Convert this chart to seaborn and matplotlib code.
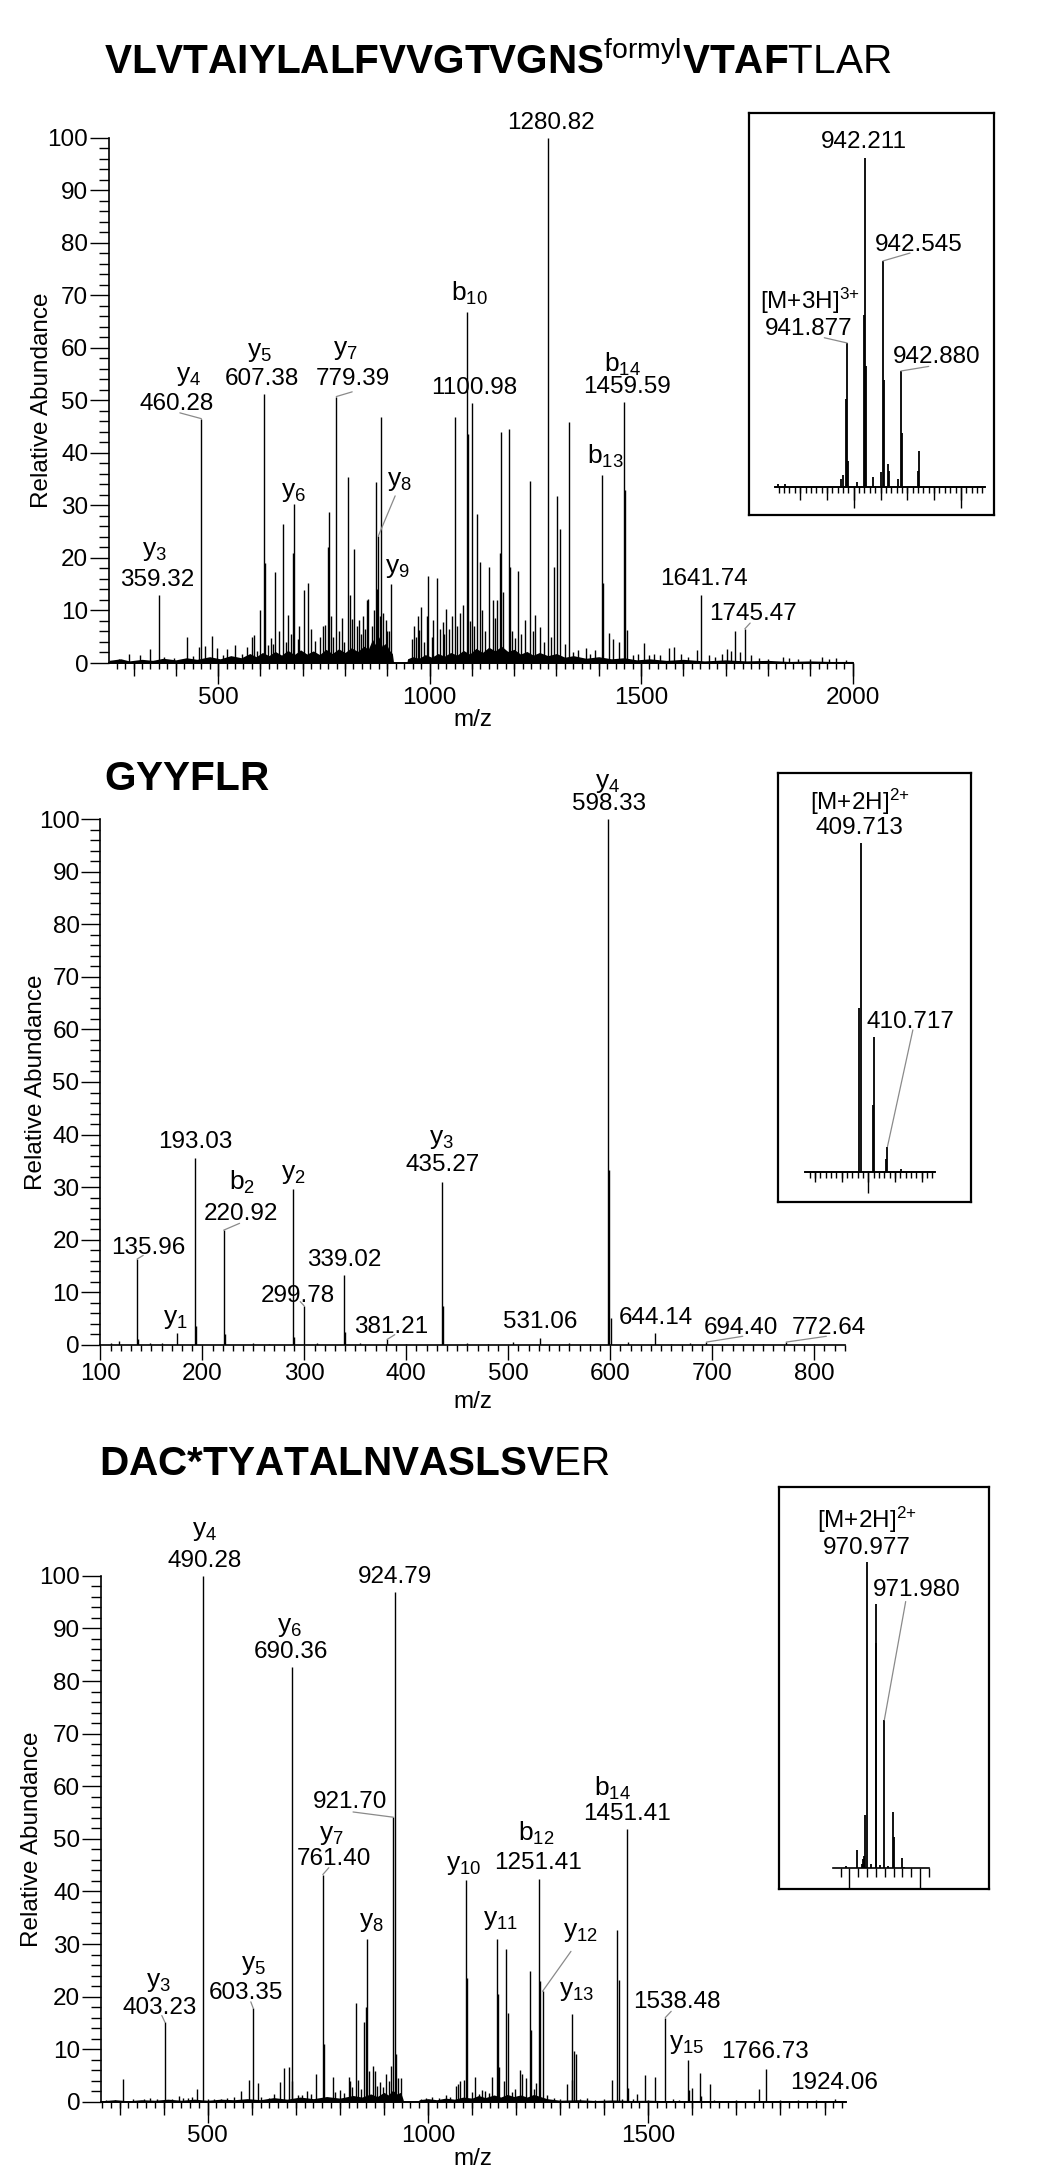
import numpy as np
import pandas as pd
import matplotlib
matplotlib.use("Agg")
import matplotlib.pyplot as plt
from matplotlib.ticker import MultipleLocator, FixedLocator, NullLocator
import seaborn as sns

# ---------------- panel 1 : VLVTAIYLALFVVGTVGNS(formyl)VTAFTLAR ----------------
p1_peak_mz = [359.32, 425.9, 460.28, 484.6, 599.5, 607.38, 611, 635.6, 653.7, 665.5,
              678, 679.5, 703, 713, 760, 763, 779.39, 808, 812, 822,
              842, 855, 873, 879, 885, 900.5, 909.6, 972.9, 979, 997,
              1018, 1031.6, 1040, 1060.6, 1087.7, 1090, 1100.98, 1111, 1119, 1140,
              1149, 1167, 1169, 1187, 1208, 1237.8, 1249, 1280.82, 1294, 1301,
              1307.6, 1330, 1407.8, 1409.6, 1425, 1434, 1449, 1459.59, 1461, 1506,
              1641.74, 1722, 1745.47]
p1_peak_int = [13.0, 4.9, 46.5, 5.2, 10, 51.2, 19, 17.4, 26.5, 9.2,
               21, 30.3, 13.8, 15.3, 22, 28.7, 50.7, 35.4, 13, 21.6,
               8.9, 12.2, 34.5, 24.2, 46.9, 6, 15, 8.9, 10.7, 16.5,
               16.2, 7.8, 10.3, 46.9, 66.7, 43.5, 49.5, 28.3, 19.3, 18.3,
               12, 20.9, 44, 44.5, 17.5, 34.6, 9.2, 100, 18.3, 31.7,
               25.5, 45.8, 35.8, 15.3, 5.8, 4.5, 4, 49.6, 33, 3.8,
               12.9, 6.0, 6.5]
p1_small_mz = [265, 289, 316, 340, 372, 395, 440, 454, 470, 498,
               512, 521, 541, 556, 568, 580, 586, 592, 618, 626,
               630, 644, 660, 672, 688, 692, 720, 728, 740, 748,
               753, 768, 772, 786, 793, 798, 816, 828, 832, 838,
               848, 852, 864, 868, 876, 882, 890, 897, 903, 958,
               962, 968, 974, 986, 993, 1005, 1009, 1025, 1035, 1045,
               1052, 1065, 1072, 1079, 1096, 1105, 1125, 1132, 1155, 1160,
               1173, 1191, 1195, 1202, 1215, 1226, 1244, 1260, 1270, 1288,
               1319.5, 1340, 1351, 1369, 1380, 1390, 1467, 1480, 1492, 1520,
               1530, 1545, 1565, 1579, 1594, 1610, 1632, 1660, 1676, 1692,
               1704, 1712, 1735, 1760, 1780, 1800, 1836, 1850, 1872, 1900,
               1927, 1945, 1960, 1985]
p1_small_int = [0.8, 1.8, 1.5, 2.6, 1.2, 1.0, 1.3, 3.0, 3.2, 2.8,
                1.6, 2.6, 3.4, 1.8, 3.1, 5.0, 5.3, 2.2, 3.5, 4.8,
                3.7, 6.0, 4.0, 5.5, 4.5, 7.0, 6.5, 4.2, 5.0, 7.0,
                7.3, 9.0, 5.0, 6.0, 8.5, 4.0, 8.3, 7.0, 8.2, 5.5,
                6.5, 12.0, 7.0, 10.0, 14.0, 9.0, 9.5, 8.2, 6.0, 4.6,
                7.0, 5.0, 6.2, 4.0, 9.0, 5.0, 8.2, 6.5, 5.6, 6.5,
                9.0, 7.0, 9.5, 11.0, 8.0, 7.0, 10.0, 6.0, 8.5, 12.0,
                13.6, 18.3, 6.0, 4.7, 5.5, 8.2, 6.0, 6.9, 4.0, 5.0,
                3.7, 2.0, 2.5, 2.8, 1.8, 2.5, 6.3, 1.5, 1.8, 1.6,
                1.8, 1.5, 2.8, 3.0, 1.8, 1.2, 2.5, 1.5, 1.2, 1.8,
                2.6, 2.2, 2.0, 1.5, 1.0, 0.8, 1.2, 0.9, 0.8, 0.7,
                1.2, 0.8, 0.9, 0.6]
p1_grass_mz = [242, 270, 290, 320, 345, 370, 400, 425, 450, 480,
               505, 530, 555, 575, 590, 605, 620, 635, 650, 665,
               680, 695, 710, 725, 740, 755, 770, 785, 800, 815,
               830, 845, 855, 865, 872, 880, 888, 897, 905, 912,
               915, 946, 948, 960, 975, 990, 1005, 1020, 1035, 1050,
               1065, 1080, 1095, 1110, 1125, 1140, 1155, 1170, 1185, 1200,
               1215, 1230, 1245, 1260, 1280, 1300, 1320, 1340, 1370, 1400,
               1430, 1460, 1490, 1520, 1560, 1600, 1650, 1700, 1750, 1800,
               1850, 1900, 1950, 2000]
p1_grass_int = [0.5, 0.8, 0.4, 0.7, 0.5, 0.9, 0.6, 1.0, 0.7, 1.2,
                0.8, 1.4, 1.0, 1.8, 1.2, 2.0, 1.4, 2.2, 1.5, 2.4,
                1.6, 2.5, 1.7, 2.3, 1.6, 2.6, 1.8, 2.7, 2.0, 2.9,
                2.2, 3.2, 2.6, 4.5, 3.5, 5.0, 3.2, 3.8, 2.4, 1.8,
                0, 0, 0.8, 1.2, 0.9, 1.6, 1.1, 1.8, 1.3, 2.0,
                1.5, 2.4, 1.7, 2.8, 2.0, 3.0, 2.3, 3.2, 2.2, 2.6,
                1.7, 2.2, 1.5, 2.0, 1.4, 1.8, 1.1, 1.4, 0.9, 1.2,
                0.8, 1.0, 0.6, 0.8, 0.5, 0.7, 0.4, 0.6, 0.4, 0.5,
                0.3, 0.4, 0.3, 0.3]
p1_iso_mz = [940.59, 940.71, 941.753, 941.791, 941.859, 941.877, 941.890, 942.052, 942.195, 942.211,
             942.232, 942.350, 942.512, 942.545, 942.556, 942.636, 942.661, 942.829, 942.880, 942.898,
             943.190, 943.215]
p1_iso_int = [1.0, 1.0, 2.5, 3.5, 26.7, 43.7, 8.0, 1.5, 52.3, 100,
              36.7, 3.0, 4.7, 68.6, 32.6, 7.0, 5.0, 2.4, 35.2, 16.3,
              5.0, 11.0]

# ---------------- panel 2 : GYYFLR ----------------
p2_peak_mz = [110, 118.7, 135.96, 136.9, 148.6, 160, 175.0, 193.03, 194.0, 220.92,
              221.9, 250, 265, 289.0, 290.0, 299.78, 312, 339.02, 340.0, 355,
              381.21, 400, 435.27, 436.3, 460, 480, 504.6, 531.06, 560, 580,
              598.33, 599.3, 600.3, 617, 644.14, 660, 678, 694.40, 720, 750,
              772.64, 800]
p2_peak_int = [0.3, 0.7, 16.3, 1.0, 0.3, 0.3, 2.3, 35.6, 3.5, 21.8,
               2.0, 0.3, 0.2, 29.7, 1.5, 7.4, 0.3, 13.3, 2.5, 0.3,
               1.0, 0.2, 31.0, 7.4, 0.3, 0.2, 0.6, 1.3, 0.3, 0.2,
               100, 33.3, 5.0, 0.5, 2.3, 0.2, 0.3, 0.5, 0.2, 0.2,
               0.5, 0.2]
p2_iso_mz = [409.66, 409.713, 410.187, 410.215, 410.675, 410.717, 411.24]
p2_iso_int = [49.9, 100, 20.5, 41.2, 3.9, 7.8, 1.0]

# ---------------- panel 3 : DAC*TYATALNVASLSVER ----------------
p3_peak_mz = [308, 403.23, 434.6, 476, 490.28, 576, 595, 603.35, 613.5, 665,
              672.5, 685.5, 690.36, 692.4, 745.8, 761.40, 763.5, 783.6, 819.8, 823.5,
              836.6, 840.5, 855, 859, 861.7, 866, 874.5, 879.5, 905.4, 910.5,
              916.8, 921.70, 924.79, 928, 931.8, 938.5, 1063.5, 1068, 1073, 1080.7,
              1086.6, 1088.6, 1106, 1130, 1145, 1156.5, 1159, 1162, 1171.5, 1177.8,
              1180.5, 1209, 1213, 1223, 1231, 1233.5, 1251.41, 1254, 1260, 1316.5,
              1326, 1328, 1332, 1336, 1418, 1430, 1432.5, 1451.41, 1454, 1474,
              1492, 1515, 1538.48, 1591, 1593.5, 1600, 1617, 1620, 1640, 1752,
              1766.73, 1840, 1924.06]
p3_peak_int = [4.4, 15.1, 1.1, 2.5, 100, 2.0, 4.1, 17.8, 3.5, 3.7,
               6.5, 6.6, 82.6, 3.9, 5.2, 43.2, 11.0, 4.7, 4.7, 3.9,
               18.7, 4.1, 15.2, 18.0, 30.9, 5.8, 6.8, 5.8, 5.2, 4.0,
               6.8, 54.1, 97, 9.0, 4.6, 4.6, 3.0, 3.3, 3.9, 4.1,
               42.1, 23.5, 4.7, 2.0, 4.7, 30.9, 20.4, 6.6, 3.9, 29.0,
               16.9, 6.1, 5.2, 4.6, 24.8, 13.7, 42.4, 23.0, 21.0, 3.3,
               4.2, 16.6, 9.7, 9.0, 4.2, 32.6, 23.2, 51.8, 2.7, 1.4,
               5.1, 4.7, 16.0, 7.9, 2.2, 2.7, 5.5, 1.1, 3.3, 2.5,
               6.3, 0.4, 0.5]
p3_small_mz = [270, 290, 330, 355, 370, 385, 420, 445, 455, 465,
               500, 515, 530, 545, 560, 620, 640, 650, 705, 715,
               725, 735, 790, 800, 810, 828, 848, 885, 892, 898,
               985, 995, 1010, 1025, 1040, 1050, 1100, 1115, 1122, 1138,
               1190, 1197, 1240, 1245, 1270, 1285, 1300, 1345, 1360, 1380,
               1400, 1440, 1465, 1500, 1555, 1570, 1650, 1700, 1800, 1880]
p3_small_int = [0.4, 0.3, 0.6, 0.5, 0.7, 0.5, 0.6, 0.8, 0.7, 1.0,
                0.5, 0.6, 0.6, 0.7, 0.9, 1.0, 0.8, 1.4, 1.3, 1.2,
                2.0, 1.5, 1.8, 2.2, 1.6, 2.8, 2.5, 3.0, 3.8, 2.8,
                0.6, 0.8, 1.0, 0.7, 1.2, 1.0, 1.8, 1.5, 2.2, 1.6,
                1.8, 2.4, 2.5, 3.6, 1.2, 0.8, 0.6, 0.5, 0.7, 0.4,
                0.5, 0.6, 0.5, 0.4, 0.5, 0.4, 0.3, 0.3, 0.3, 0.3]
p3_grass_mz = [258, 290, 320, 350, 380, 410, 440, 470, 500, 530,
               560, 590, 620, 650, 680, 710, 740, 770, 800, 830,
               850, 870, 885, 900, 910, 920, 930, 938, 943, 945,
               978, 980, 1000, 1020, 1040, 1060, 1080, 1100, 1115, 1130,
               1150, 1165, 1180, 1195, 1210, 1225, 1240, 1255, 1270, 1300,
               1340, 1380, 1420, 1460, 1500, 1550, 1600, 1700, 1800, 1948]
p3_grass_int = [0.2, 0.4, 0.2, 0.4, 0.3, 0.5, 0.3, 0.5, 0.3, 0.5,
                0.4, 0.6, 0.4, 0.8, 0.5, 0.9, 0.6, 1.0, 0.7, 1.2,
                0.9, 1.5, 1.0, 1.8, 1.3, 2.2, 1.5, 1.8, 0.6, 0,
                0, 0.4, 0.6, 0.4, 0.7, 0.5, 0.9, 0.7, 1.2, 0.8,
                1.3, 0.9, 1.4, 1.0, 1.3, 0.9, 1.4, 1.0, 0.6, 0.3,
                0.4, 0.25, 0.35, 0.25, 0.3, 0.2, 0.25, 0.2, 0.2, 0.2]
p3_iso_mz = [969.8, 970.44, 970.7, 970.75, 970.82, 970.90, 970.977, 971.2, 971.478, 971.50,
             971.75, 971.980, 972.2, 972.45, 972.50, 972.96, 973.1]
p3_iso_int = [0.8, 6.0, 1.5, 3.0, 4.0, 17.4, 100, 1.5, 86.2, 73.4,
              1.0, 48.4, 0.8, 18.5, 10.3, 3.3, 0.5]

# ---------------- labels (text, x, y [, leader peak, leader end x, leader end y]) ----------------
def ion(kind, n):
    return r"$\mathrm{%s}_{%s}$" % (kind, n)

p1_notes = [("1280.82", 1286.6, 102.8), (ion("b", 10), 1093, 70.4), ("1100.98", 1106, 52.3),
            (ion("y", 5), 597.6, 59.1), ("607.38", 604, 54.1),
            (ion("y", 7), 801, 59.5), ("779.39", 819, 54.0, 779.39, 817, 51.6),
            (ion("y", 4), 430, 54.7), ("460.28", 401.4, 49.3, 460.28, 409.6, 47.6),
            (ion("y", 6), 679, 32.5), (ion("y", 8), 927.7, 34.7, 879, 918.6, 31.8),
            (ion("y", 9), 923, 18.0), (ion("y", 3), 349, 21.3), ("359.32", 355.3, 15.8),
            (ion("b", 14), 1456.5, 56.9), ("1459.59", 1466, 52.6), (ion("b", 13), 1416, 39.4),
            ("1641.74", 1649, 16.0), ("1745.47", 1765.6, 9.4, 1745.47, 1758, 7.6)]
p1_iso_notes = [("942.211", 942.19, 104.7), ("942.545", 943.215, 73.3, 942.545, 943.05, 71.0),
                ("[M+3H]$^{3{+}}$", 941.18, 56.5), ("941.877", 941.168, 48.0, 941.877, 941.45, 45.3),
                ("942.880", 943.556, 39.5, 942.880, 943.4, 36.6)]
p2_notes = [("193.03", 193.2, 38.6), (ion("b", 2), 239.3, 30.8), ("220.92", 238.1, 24.9, 220.92, 236.5, 23.1),
            (ion("y", 2), 289.1, 32.5), ("299.78", 293.7, 9.2, 299.78, 296, 8.2),
            ("339.02", 339.5, 16.1), ("135.96", 147.3, 18.4, 135.96, 142, 17.0),
            (ion("y", 1), 173.6, 4.9), ("381.21", 385.6, 3.4, 381.21, 388.7, 1.9),
            (ion("y", 3), 434.7, 39.2), ("435.27", 435.9, 34.2), ("531.06", 531.8, 4.3),
            (ion("y", 4), 597.4, 107.0), ("598.33", 598.6, 103.0), ("644.14", 644.8, 5.0),
            ("694.40", 728.7, 3.1, 694.40, 730, 1.6), ("772.64", 814.0, 3.1, 772.64, 812, 1.6)]
p2_iso_notes = [("[M+2H]$^{2{+}}$", 409.68, 112.5), ("409.713", 409.68, 104.5),
                ("410.717", 411.566, 45.6, 410.717, 411.67, 43.2)]
p3_notes = [(ion("y", 4), 492.4, 108.6), ("490.28", 492.4, 102.9), ("924.79", 925.5, 99.8),
            (ion("y", 6), 685.4, 90.3), ("690.36", 690, 85.6),
            ("921.70", 823.7, 57.0, 921.70, 830, 55.1),
            (ion("y", 7), 781, 50.8), ("761.40", 785.7, 46.2, 761.40, 775, 44.5),
            (ion("y", 8), 872.3, 34.1),
            (ion("y", 3), 389, 22.7), ("403.23", 390.6, 17.8, 403.23, 396, 16.4),
            (ion("y", 5), 603.3, 26.0), ("603.35", 588, 20.6, 603.35, 598, 19.0),
            (ion("y", 10), 1082, 45.1), (ion("b", 12), 1244.7, 51.1), ("1251.41", 1249, 45.4),
            (ion("y", 11), 1165.6, 34.5), (ion("y", 12), 1345, 32.2, 1260, 1324.5, 28.6),
            (ion("y", 13), 1337.4, 21.0), (ion("b", 14), 1419.5, 59.6), ("1451.41", 1451.4, 54.7),
            ("1538.48", 1563.8, 18.9, 1538.48, 1552, 17.2), (ion("y", 15), 1586.6, 10.9),
            ("1766.73", 1764.4, 9.5), ("1924.06", 1921, 3.6)]
p3_iso_notes = [("[M+2H]$^{2{+}}$", 970.977, 113.6), ("970.977", 970.977, 104.4),
                ("971.980", 973.818, 90.8, 971.980, 973.19, 87.0)]

# ---------------- style ----------------
W, H = 1050, 2181
FS = 17.5
ION_FS = 19
sns.set_theme(style="ticks", rc={"axes.edgecolor": "black", "xtick.color": "black",
                                 "ytick.color": "black", "text.color": "black",
                                 "axes.labelcolor": "black"})
plt.rcParams["font.family"] = ["Liberation Sans", "DejaVu Sans"]
plt.rcParams["mathtext.fontset"] = "custom"
plt.rcParams["mathtext.rm"] = "Liberation Sans"
plt.rcParams["mathtext.it"] = "Liberation Sans:italic"
plt.rcParams["mathtext.bf"] = "Liberation Sans:bold"
plt.rcParams["mathtext.default"] = "regular"

fig = plt.figure(figsize=(W / 100, H / 100), dpi=100)


def px_axes(left, top, right, bottom):
    return fig.add_axes([left / W, 1 - bottom / H, (right - left) / W, (bottom - top) / H])


def draw_sticks(ax, mz, inten, lw=1.0):
    df = pd.DataFrame({"mz": mz, "int": inten})
    ax.vlines(df["mz"], 0, df["int"], color="black", lw=lw, zorder=3)


def annotate(ax, notes, mz, inten):
    mz = np.asarray(mz)
    inten = np.asarray(inten)
    for note in notes:
        text, x, y = note[:3]
        size = ION_FS if text.startswith("$") else FS
        ax.text(x, y, text, ha="center", va="center", fontsize=size, clip_on=False, zorder=5)
        if len(note) > 3:
            target, ex, ey = note[3:]
            i = np.argmin(np.abs(mz - target))
            ax.plot([mz[i], ex], [inten[i], ey], color="#8a8a8a", lw=0.9,
                    clip_on=False, zorder=4)


def main_axes(box, xlim, xmajor, xmid, xminor, xmajor_len, ylab_x, xlab_x=0.5):
    ax = px_axes(*box)
    ax.set_facecolor("none")
    ax.set_xlim(*xlim)
    ax.set_ylim(0, 100)
    sns.despine(ax=ax)
    for s in ("left", "bottom"):
        ax.spines[s].set_linewidth(1.2)
    ax.yaxis.set_major_locator(MultipleLocator(10))
    ax.yaxis.set_minor_locator(MultipleLocator(2))
    ax.xaxis.set_major_locator(MultipleLocator(xmajor))
    ax.xaxis.set_minor_locator(MultipleLocator(xminor))
    ax.tick_params(axis="y", which="major", length=14, width=1.0, pad=1, labelsize=FS)
    ax.tick_params(axis="y", which="minor", length=7, width=1.0)
    ax.tick_params(axis="x", which="major", length=xmajor_len, width=1.0, pad=2, labelsize=FS)
    ax.tick_params(axis="x", which="minor", length=4, width=1.0)
    if xmid:
        sec = ax.secondary_xaxis("bottom")
        sec.xaxis.set_major_locator(MultipleLocator(xmid))
        sec.xaxis.set_minor_locator(NullLocator())
        sec.tick_params(axis="x", length=9, width=1.0, labelbottom=False)
    ax.set_xlabel("m/z", fontsize=FS)
    ax.set_ylabel("Relative Abundance", fontsize=FS)
    ax.xaxis.set_label_coords(xlab_x, -46 / (box[3] - box[1]))
    ax.yaxis.set_label_coords(ylab_x, 0.5)
    return ax


def inset(box, axis, xlim, mz, inten, notes, long_ticks, mid_step, minor_step, mid_len, minor_len):
    frame = px_axes(*box)
    frame.set_xticks([])
    frame.set_yticks([])
    frame.set_facecolor("white")
    for s in frame.spines.values():
        s.set_visible(True)
        s.set_linewidth(1.6)
        s.set_color("black")
    ax = px_axes(*axis)
    ax.set_facecolor("none")
    ax.set_xlim(*xlim)
    ax.set_ylim(0, 100)
    sns.despine(ax=ax, left=True)
    ax.spines["bottom"].set_linewidth(1.2)
    ax.set_yticks([])
    ax.xaxis.set_major_locator(FixedLocator(long_ticks))
    ax.xaxis.set_minor_locator(MultipleLocator(minor_step))
    ax.tick_params(axis="x", which="major", length=15, width=1.0, labelbottom=False)
    ax.tick_params(axis="x", which="minor", length=minor_len, width=1.0)
    if mid_step:
        sec = ax.secondary_xaxis("bottom")
        sec.xaxis.set_major_locator(MultipleLocator(mid_step))
        sec.xaxis.set_minor_locator(NullLocator())
        sec.tick_params(axis="x", length=mid_len, width=1.0, labelbottom=False)
    draw_sticks(ax, mz, inten, lw=1.3)
    annotate(ax, notes, mz, inten)
    return ax


def title(x, y, text):
    fig.text(x / W, 1 - y / H, text, fontsize=29.2, ha="left", va="baseline")


# ---------------- panel 1 ----------------
title(104, 74, r"$\mathbf{VLVTAIYLALFVVGTVGNS}^{\mathrm{formyl}}\mathbf{VTAF}\mathrm{TLAR}$")
ax1 = main_axes((109, 137.5, 852.5, 663), (242, 2000), 500, 100, 20, 15, -0.075, 0.49)
ax1.fill_between(p1_grass_mz, 0, p1_grass_int, color="black", lw=0, zorder=2)
draw_sticks(ax1, p1_small_mz, p1_small_int)
draw_sticks(ax1, p1_peak_mz, p1_peak_int)
annotate(ax1, p1_notes, p1_peak_mz + p1_small_mz, p1_peak_int + p1_small_int)
inset((749, 113, 994, 515), (775, 157.5, 985, 487), (940.53, 944.45),
      p1_iso_mz, p1_iso_int, p1_iso_notes, [942, 944], 0.5, 0.1, 9, 4.5)

# ---------------- panel 2 ----------------
title(104, 790, r"$\mathbf{GYYFLR}$")
ax2 = main_axes((100.4, 819.3, 844.7, 1344.7), (100, 830), 100, None, 10, 11, -0.072)
draw_sticks(ax2, p2_peak_mz, p2_peak_int)
annotate(ax2, p2_notes, p2_peak_mz, p2_peak_int)
inset((777.8, 773.3, 970.6, 1201.9), (804.7, 842.8, 934.7, 1172.3), (407.61, 412.49),
      p2_iso_mz, p2_iso_int, p2_iso_notes, [410], 1, 0.2, 7, 4)

# ---------------- panel 3 ----------------
title(99, 1475, r"$\mathbf{DAC{*}TYATALNVASLSV}\mathrm{ER}$")
ax3 = main_axes((101, 1575.8, 845.7, 2101.8), (258, 1948), 500, 100, 20, 15, -0.078)
ax3.fill_between(p3_grass_mz, 0, p3_grass_int, color="black", lw=0, zorder=2)
draw_sticks(ax3, p3_small_mz, p3_small_int)
draw_sticks(ax3, p3_peak_mz, p3_peak_int)
annotate(ax3, p3_notes, p3_peak_mz, p3_peak_int)
inset((779.3, 1487.3, 989.3, 1889.3), (832.7, 1561.7, 929.3, 1868.3), (969.05, 974.53),
      p3_iso_mz, p3_iso_int, p3_iso_notes, [970, 974], None, 0.5, 0, 6.5)

fig.savefig("out.png", dpi=100)
